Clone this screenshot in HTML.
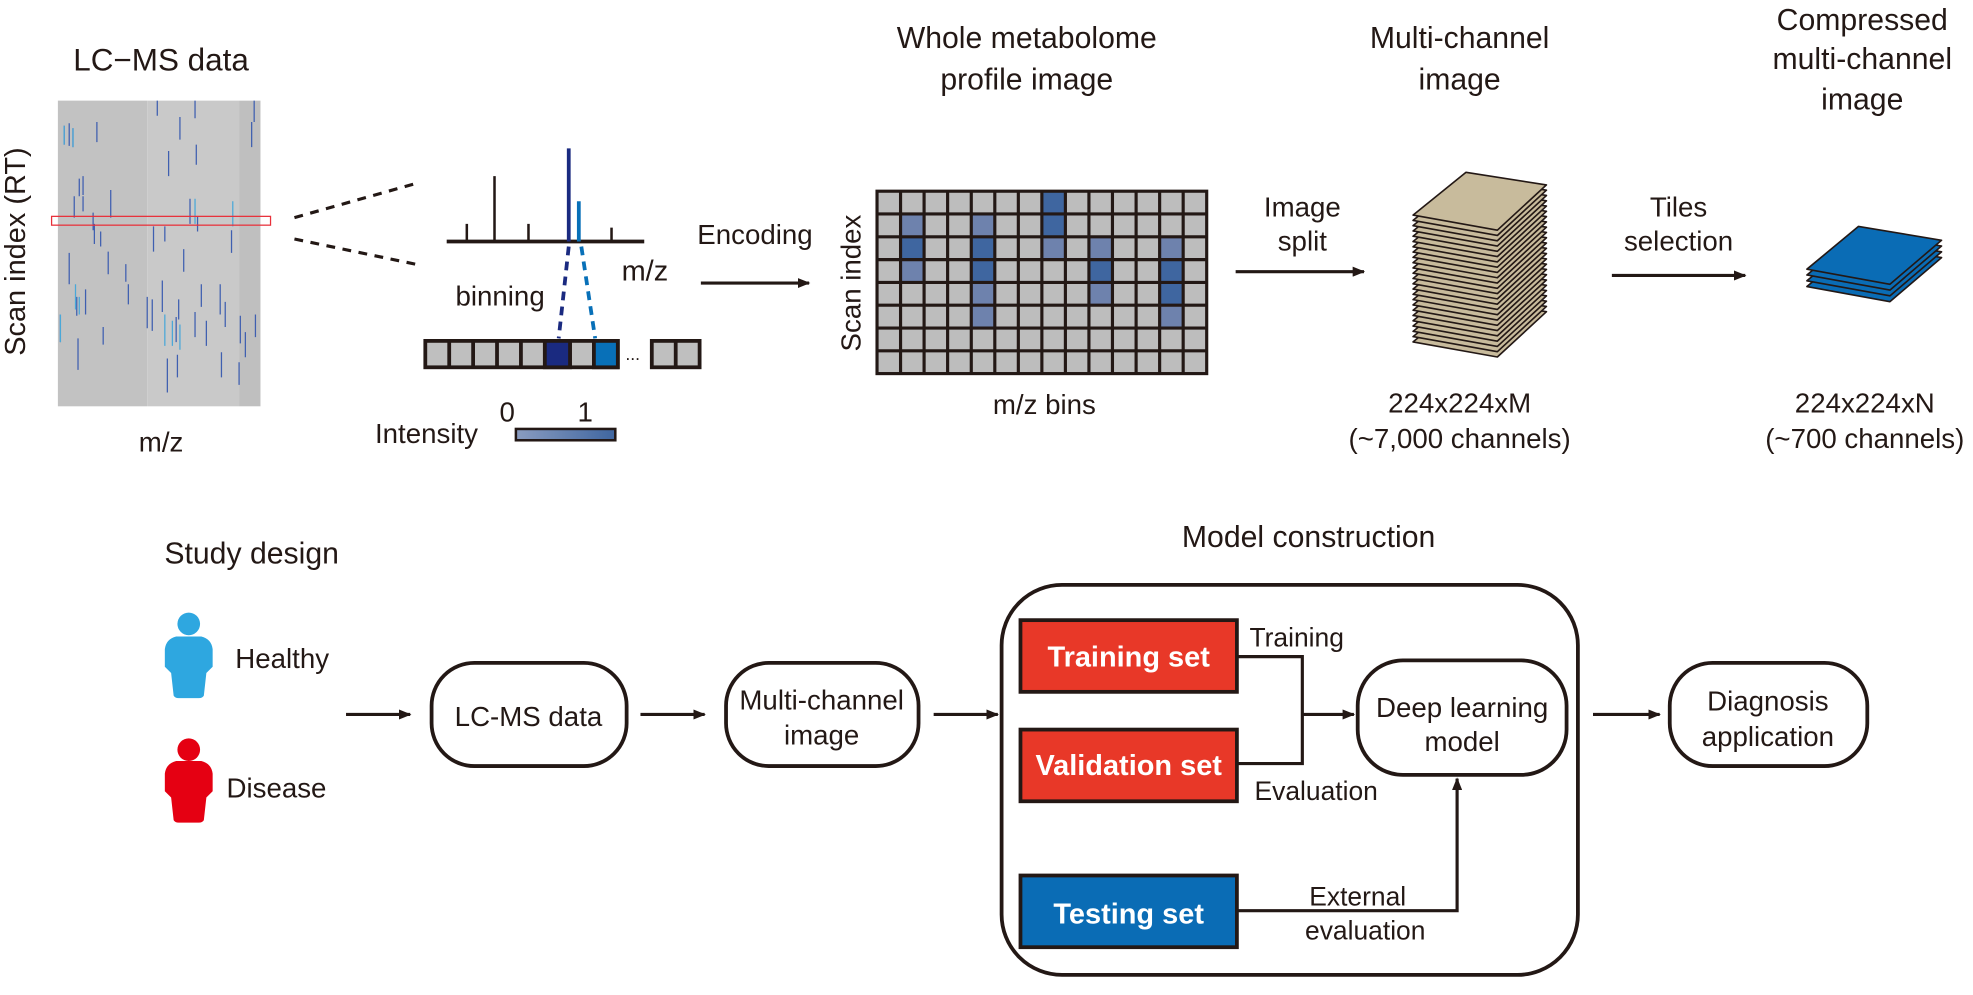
<!DOCTYPE html>
<html><head><meta charset="utf-8"><style>
html,body{margin:0;padding:0;background:#fff;}
svg{display:block;}
text{font-family:"Liberation Sans",Arial,sans-serif;fill:#231815;}
</style></head><body>
<svg width="1973" height="995" viewBox="0 0 1568 791" preserveAspectRatio="none" xmlns="http://www.w3.org/2000/svg">
<defs>
<marker id="ah" markerWidth="10" markerHeight="8" refX="9" refY="4" orient="auto" markerUnits="userSpaceOnUse"><path d="M0,0 L10,4 L0,8 z" fill="#231815"/></marker>
<linearGradient id="ig" x1="0" x2="1"><stop offset="0" stop-color="#8a9cc0"/><stop offset="1" stop-color="#3f66a0"/></linearGradient>
</defs>

<text x="128" y="56" font-size="25" text-anchor="middle">LC−MS data</text>
<rect x="46" y="80" width="71" height="243" fill="#c2c2c2"/>
<rect x="117" y="80" width="73" height="243" fill="#c9c9c9"/>
<rect x="190" y="80" width="17" height="243" fill="#bfbfbf"/>
<g stroke-width="1" fill="none">
<path d="M51,100v15 M55,98v18 M58,102v15 M77,97v16 M143,93v18 M134,120v20 M125,80v12 M155,80v14 M156,115v16 M202,80v17 M200,97v20 M59,156v17 M63,142v14 M66,140v15 M88,151v22 M74,169v14 M75,178v16 M80,184v12 M100,210v14 M122,180v20 M131,180v12 M146,198v18 M184,183v18 M151,158v20 M157,172v12 M55,201v25 M48,250v22 M121,238v25 M117,236v25 M82,260v14 M61,236v15 M129,223v25 M133,285v27 M141,282v18 M175,226v24 M179,240v20 M195,264v20 M191,251v22 M203,250v18 M190,288v18 M176,280v20 M68,230v20 M86,200v18 M102,226v16 M160,226v18 M164,255v20 M155,248v20 M140,252v20 M142,238v16 M62,269v25 M66,156v12" stroke="#3f5fb0"/>
<path d="M51,100v15 M58,102v15 M48,250v22 M131,250v25 M137,255v20 M143,258v20 M60,226v20 M63,236v14 M155,158v20 M185,160v20" stroke="#4aa8d8"/>
</g>
<rect x="41" y="172" width="174" height="7" fill="none" stroke="#e8303a" stroke-width="1"/>
<text transform="translate(20,200) rotate(-90)" font-size="23" text-anchor="middle">Scan index (RT)</text>
<text x="128" y="359" font-size="22" text-anchor="middle">m/z</text>

<path d="M234,173 L330,146" stroke="#231815" stroke-width="2.5" stroke-dasharray="7,6"/>
<path d="M234,190 L330,210" stroke="#231815" stroke-width="2.5" stroke-dasharray="7,6"/>

<path d="M355,192 H512" stroke="#231815" stroke-width="3"/>
<path d="M371,192V178 M393,192V140 M420,192V178 M486,192V181" stroke="#231815" stroke-width="2"/>
<path d="M452,192V118" stroke="#1a2a80" stroke-width="3"/>
<path d="M460,192V160" stroke="#0870b8" stroke-width="3"/>
<text x="494" y="223" font-size="23">m/z</text>
<text x="362" y="243" font-size="22">binning</text>
<path d="M452,196 L444,269" stroke="#1a2a80" stroke-width="3" stroke-dasharray="7,5"/>
<path d="M462,196 L473,269" stroke="#0870b8" stroke-width="3" stroke-dasharray="7,5"/>
<g stroke="#231815" stroke-width="3">
<rect x="338" y="271" width="153" height="21" fill="#bfbfbf"/>
<path d="M357,271v21 M376,271v21 M395,271v21 M414,271v21 M433,271v21 M453,271v21 M472,271v21"/>
<rect x="433" y="271" width="20" height="21" fill="#1a2a80"/>
<rect x="472" y="271" width="19" height="21" fill="#0870b8"/>
<rect x="518" y="271" width="38" height="21" fill="#bfbfbf"/>
<path d="M537,271v21"/>
</g>
<text x="497" y="286" font-size="14">...</text>
<text x="298" y="352" font-size="22">Intensity</text>
<text x="397" y="335" font-size="22">0</text>
<text x="459" y="335" font-size="22">1</text>
<rect x="410" y="341" width="79" height="9" fill="url(#ig)" stroke="#231815" stroke-width="2"/>

<text x="600" y="194" font-size="22" text-anchor="middle">Encoding</text>
<path d="M557,225 H643" stroke="#231815" stroke-width="2.5" marker-end="url(#ah)"/>

<text x="816" y="38" font-size="24" text-anchor="middle">Whole metabolome</text>
<text x="816" y="71" font-size="24" text-anchor="middle">profile image</text>
<rect x="697" y="152" width="262" height="145" fill="#bdbdbd"/>
<g fill="#3f66a0">
<rect x="828" y="152" width="19" height="18"/><rect x="828" y="170" width="19" height="18"/>
<rect x="716" y="188" width="19" height="18"/><rect x="772" y="188" width="19" height="18"/>
<rect x="772" y="206" width="19" height="18"/><rect x="865" y="206" width="19" height="18"/><rect x="921" y="206" width="19" height="18"/>
<rect x="921" y="224" width="19" height="18"/>
</g>
<g fill="#6e82ad">
<rect x="716" y="170" width="19" height="18"/><rect x="772" y="170" width="19" height="18"/>
<rect x="828" y="188" width="19" height="18"/><rect x="865" y="188" width="19" height="18"/><rect x="921" y="188" width="19" height="18"/>
<rect x="716" y="206" width="19" height="18"/>
<rect x="772" y="224" width="19" height="18"/><rect x="865" y="224" width="19" height="18"/>
<rect x="772" y="242" width="19" height="18"/><rect x="921" y="242" width="19" height="18"/>
</g>
<g stroke="#231815" stroke-width="2.5" fill="none">
<rect x="697" y="152" width="262" height="145"/>
<path d="M715.7,152v145 M734.4,152v145 M753.1,152v145 M771.9,152v145 M790.6,152v145 M809.3,152v145 M828,152v145 M846.7,152v145 M865.4,152v145 M884.1,152v145 M902.9,152v145 M921.6,152v145 M940.3,152v145"/>
<path d="M697,170.1h262 M697,188.3h262 M697,206.4h262 M697,224.5h262 M697,242.6h262 M697,260.8h262 M697,278.9h262"/>
</g>
<text transform="translate(684,225) rotate(-90)" font-size="22" text-anchor="middle">Scan index</text>
<text x="830" y="329" font-size="22" text-anchor="middle">m/z bins</text>

<text x="1035" y="172" font-size="22" text-anchor="middle">Image</text>
<text x="1035" y="199" font-size="22" text-anchor="middle">split</text>
<path d="M982,216 H1084" stroke="#231815" stroke-width="2.5" marker-end="url(#ah)"/>

<text x="1160" y="38" font-size="24" text-anchor="middle">Multi-channel</text>
<text x="1160" y="71" font-size="24" text-anchor="middle">image</text>
<g id="stack" fill="#c8bb9c" stroke="#231815" stroke-width="1.3" stroke-linejoin="round"></g>
<text x="1160" y="328" font-size="22" text-anchor="middle">224x224xM</text>
<text x="1160" y="356" font-size="22" text-anchor="middle">(~7,000 channels)</text>

<text x="1334" y="172" font-size="22" text-anchor="middle">Tiles</text>
<text x="1334" y="199" font-size="22" text-anchor="middle">selection</text>
<path d="M1281,219 H1387" stroke="#231815" stroke-width="2.5" marker-end="url(#ah)"/>

<text x="1480" y="24" font-size="24" text-anchor="middle">Compressed</text>
<text x="1480" y="55" font-size="24" text-anchor="middle">multi-channel</text>
<text x="1480" y="87" font-size="24" text-anchor="middle">image</text>
<g id="cstack" fill="#0a6cb5" stroke="#231815" stroke-width="1.3" stroke-linejoin="round"></g>
<text x="1482" y="328" font-size="22" text-anchor="middle">224x224xN</text>
<text x="1482" y="356" font-size="22" text-anchor="middle">(~700 channels)</text>

<text x="200" y="448" font-size="24" text-anchor="middle">Study design</text>
<g fill="#2ea7e0">
<circle cx="150" cy="496" r="9"/>
<path d="M140,506 H160 Q168,508 169,516 V530 L164,535 L162,553 Q161,555 158,555 H142 Q139,555 138,553 L136,535 L131,530 V516 Q132,508 140,506 z"/>
</g>
<g fill="#e50012">
<circle cx="150" cy="596" r="9"/>
<path d="M140,605 H160 Q168,607 169,615 V629 L164,634 L162,652 Q161,654 158,654 H142 Q139,654 138,652 L136,634 L131,629 V615 Q132,607 140,605 z"/>
</g>
<text x="187" y="531" font-size="22">Healthy</text>
<text x="180" y="634" font-size="22">Disease</text>

<g fill="none" stroke="#231815" stroke-width="3">
<rect x="343" y="527" width="155" height="82" rx="34"/>
<rect x="577" y="527" width="153" height="82" rx="34"/>
<rect x="796" y="465" width="458" height="310" rx="48"/>
<rect x="1079" y="525" width="166" height="91" rx="36"/>
<rect x="1327" y="527" width="157" height="82" rx="34"/>
</g>
<g stroke="#231815" stroke-width="2.5" fill="none">
<path d="M275,568 H326" marker-end="url(#ah)"/>
<path d="M509,568 H560" marker-end="url(#ah)"/>
<path d="M742,568 H793" marker-end="url(#ah)"/>
<path d="M1266,568 H1319" marker-end="url(#ah)"/>
<path d="M983,522 H1035 V607 H983"/>
<path d="M1035,568 H1076" marker-end="url(#ah)"/>
<path d="M983,724 H1158 V619" marker-end="url(#ah)"/>
</g>
<text x="420" y="577" font-size="22" text-anchor="middle">LC-MS data</text>
<text x="653" y="564" font-size="22" text-anchor="middle">Multi-channel</text>
<text x="653" y="592" font-size="22" text-anchor="middle">image</text>
<text x="1040" y="435" font-size="24" text-anchor="middle">Model construction</text>
<text x="1162" y="570" font-size="22" text-anchor="middle">Deep learning</text>
<text x="1162" y="597" font-size="22" text-anchor="middle">model</text>
<text x="1405" y="565" font-size="22" text-anchor="middle">Diagnosis</text>
<text x="1405" y="593" font-size="22" text-anchor="middle">application</text>

<g stroke="#231815" stroke-width="3">
<rect x="811" y="493" width="172" height="57" fill="#e83828"/>
<rect x="811" y="580" width="172" height="57" fill="#e83828"/>
<rect x="811" y="696" width="172" height="57" fill="#0a6cb5"/>
</g>
<text x="897" y="530" font-size="23" font-weight="bold" text-anchor="middle" style="fill:#fff">Training set</text>
<text x="897" y="616" font-size="23" font-weight="bold" text-anchor="middle" style="fill:#fff">Validation set</text>
<text x="897" y="734" font-size="23" font-weight="bold" text-anchor="middle" style="fill:#fff">Testing set</text>
<text x="993" y="514" font-size="21">Training</text>
<text x="997" y="636" font-size="21">Evaluation</text>
<text x="1079" y="720" font-size="21" text-anchor="middle">External</text>
<text x="1085" y="747" font-size="21" text-anchor="middle">evaluation</text>
</svg>
<script>
(function(){
 var ns="http://www.w3.org/2000/svg";
 function build(id,pts,n,step){
  var g=document.getElementById(id);
  for(var i=n;i>=0;i--){
   var p=document.createElementNS(ns,"polygon");
   p.setAttribute("points",pts.map(function(q){return q[0]+","+(q[1]+i*step);}).join(" "));
   g.appendChild(p);
  }
 }
 build("stack",[[1123,171],[1165,137],[1229,147],[1190,183]],24,4.2);
 build("cstack",[[1436,214],[1477,180],[1543,191],[1502,226]],3,4.6);
})();
</script>
</body></html>
